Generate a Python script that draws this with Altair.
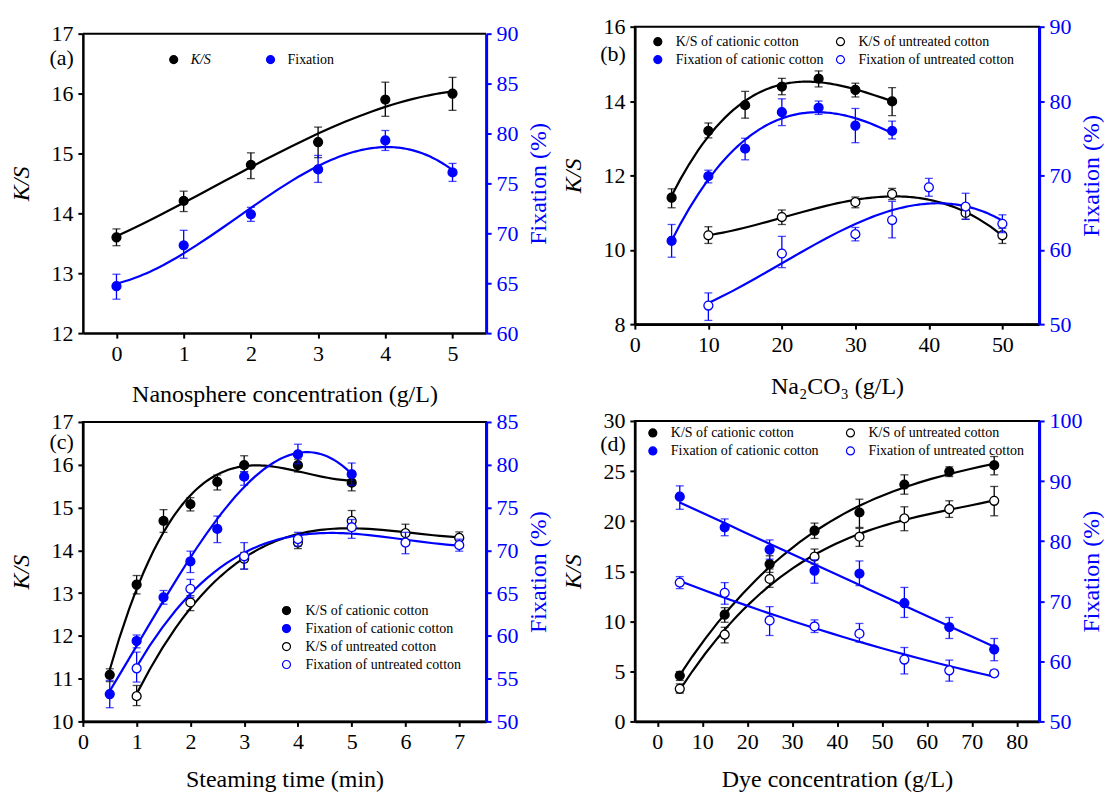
import altair as alt
import pandas as pd

FONT = "Liberation Serif"
BLUE = "#0000FF"

# ---------------- Panel (a) ----------------
a_x = [0, 1, 2, 3, 4, 5]
a_ks = [13.60, 14.21, 14.81, 15.19, 15.90, 16.00]
a_ks_lo = [13.46, 14.03, 14.58, 14.93, 15.62, 15.72]
a_ks_hi = [13.74, 14.37, 15.01, 15.44, 16.19, 16.27]
a_fx = [64.7, 68.8, 71.9, 76.4, 79.3, 76.1]
a_fx_lo = [63.4, 67.5, 71.2, 75.1, 78.3, 75.2]
a_fx_hi = [65.9, 70.3, 72.6, 77.8, 80.3, 77.0]

# ---------------- Panel (b) ----------------
b_cat_x = [5, 10, 15, 20, 25, 30, 35]
b_ks_cat = [11.40, 13.20, 13.89, 14.39, 14.60, 14.30, 13.99]
b_ks_cat_lo = [11.13, 13.01, 13.54, 14.17, 14.38, 14.11, 13.61]
b_ks_cat_hi = [11.64, 13.41, 14.26, 14.61, 14.81, 14.48, 14.36]
b_fx_cat = [61.2, 69.9, 73.6, 78.5, 79.1, 76.7, 76.0]
b_fx_cat_lo = [59.0, 69.0, 72.1, 76.7, 78.2, 74.4, 74.9]
b_fx_cat_hi = [63.4, 70.7, 75.0, 80.3, 80.0, 79.0, 77.3]
b_ks_unt_x = [10, 20, 30, 35, 45, 50]
b_ks_unt = [10.39, 10.88, 11.28, 11.50, 10.99, 10.39]
b_ks_unt_lo = [10.17, 10.68, 11.13, 11.35, 10.82, 10.17]
b_ks_unt_hi = [10.62, 11.07, 11.42, 11.65, 11.13, 10.58]
b_fx_unt_x = [10, 20, 30, 35, 40, 45, 50]
b_fx_unt = [52.5, 59.5, 62.1, 64.0, 68.4, 65.8, 63.5]
b_fx_unt_lo = [50.5, 57.6, 61.2, 61.6, 67.2, 64.1, 62.3]
b_fx_unt_hi = [54.2, 61.8, 63.0, 66.5, 69.6, 67.6, 64.7]

# ---------------- Panel (c) ----------------
c_cat_x = [0.5, 1, 1.5, 2, 2.5, 3, 4, 5]
c_ks_cat = [11.09, 13.20, 14.69, 15.08, 15.60, 15.99, 15.99, 15.58]
c_ks_cat_lo = [10.93, 12.98, 14.42, 14.92, 15.41, 15.83, 15.83, 15.39]
c_ks_cat_hi = [11.23, 13.41, 14.95, 15.23, 15.76, 16.21, 16.13, 15.72]
c_fx_cat = [53.2, 59.4, 64.5, 68.7, 72.5, 78.6, 81.2, 78.9]
c_fx_cat_lo = [51.6, 58.6, 63.7, 67.4, 70.9, 77.6, 80.1, 77.6]
c_fx_cat_hi = [54.8, 60.1, 65.3, 69.9, 74.0, 79.2, 82.4, 80.2]
c_unt_x = [1, 2, 3, 4, 5, 6, 7]
c_ks_unt = [10.59, 12.78, 13.80, 14.18, 14.69, 14.40, 14.29]
c_ks_unt_lo = [10.37, 12.59, 13.56, 14.04, 14.46, 14.18, 14.15]
c_ks_unt_hi = [10.84, 12.94, 13.95, 14.34, 14.93, 14.61, 14.43]
c_fx_unt = [56.2, 65.5, 69.3, 71.3, 72.7, 70.9, 70.6]
c_fx_unt_lo = [54.6, 64.5, 67.8, 70.5, 71.4, 69.6, 69.9]
c_fx_unt_hi = [58.1, 66.6, 70.9, 72.1, 73.6, 72.1, 71.3]

# ---------------- Panel (d) ----------------
d_x = [5, 15, 25, 35, 45, 55, 65, 75]
d_ks_cat = [4.58, 10.66, 15.71, 19.04, 20.86, 23.65, 24.95, 25.58]
d_ks_cat_lo = [4.09, 9.90, 14.88, 18.27, 19.37, 22.69, 24.45, 24.62]
d_ks_cat_hi = [4.98, 11.36, 16.54, 19.80, 22.19, 24.62, 25.42, 26.45]
d_ks_unt = [3.26, 8.67, 14.22, 16.45, 18.44, 20.27, 21.20, 22.03]
d_ks_unt_lo = [2.82, 7.84, 13.39, 15.71, 17.48, 19.04, 20.37, 20.53]
d_ks_unt_hi = [3.75, 9.40, 15.22, 17.21, 19.27, 21.43, 22.03, 23.46]
d_fx_cat = [87.4, 82.3, 78.6, 75.1, 74.6, 69.7, 65.7, 62.0]
d_fx_cat_lo = [85.3, 80.9, 77.0, 73.0, 72.6, 67.3, 63.8, 60.1]
d_fx_cat_hi = [89.2, 83.7, 80.2, 76.9, 76.7, 72.3, 67.3, 63.8]
d_fx_unt = [73.1, 71.4, 66.8, 65.8, 64.6, 60.3, 58.5, 58.0]
d_fx_unt_lo = [72.1, 69.5, 64.3, 64.8, 63.2, 57.9, 56.7, 57.5]
d_fx_unt_hi = [74.1, 73.1, 69.1, 66.9, 66.3, 62.3, 60.2, 58.5]

KS_CAT = "K/S of cationic cotton"
KS_UNT = "K/S of untreated cotton"
FX_CAT = "Fixation of cationic cotton"
FX_UNT = "Fixation of untreated cotton"


def frame(name, xs, vs, los, his):
    return pd.DataFrame({"s": [name] * len(xs), "x": xs, "v": vs, "lo": los, "hi": his})


def group(df, xenc, ysc, axis, color, order, fill_sc, stroke_sc, legend):
    base = alt.Chart(df)
    rule = base.mark_rule(color=color, strokeWidth=1.3).encode(
        x=xenc, y=alt.Y("lo:Q", scale=ysc, axis=axis), y2="hi:Q")
    cap_lo = base.mark_tick(orient="horizontal", color=color, size=8, thickness=1.3).encode(
        x=xenc, y=alt.Y("lo:Q", scale=ysc, axis=axis))
    cap_hi = base.mark_tick(orient="horizontal", color=color, size=8, thickness=1.3).encode(
        x=xenc, y=alt.Y("hi:Q", scale=ysc, axis=axis))
    line = base.transform_regression("x", "v", groupby=["s"], method="poly", order=order).mark_line(
        color=color, strokeWidth=2.2).encode(
        x=xenc, y=alt.Y("v:Q", scale=ysc, axis=axis), detail="s:N")
    pts = base.mark_point(shape="circle", filled=True, size=80, opacity=1, strokeWidth=1.3).encode(
        x=xenc, y=alt.Y("v:Q", scale=ysc, axis=axis),
        fill=alt.Fill("s:N", scale=fill_sc, legend=legend),
        stroke=alt.Stroke("s:N", scale=stroke_sc, legend=legend))
    return alt.layer(rule, cap_lo, cap_hi, line, pts)


def panel(ks_df, fx_df, xdom, xvals, xtitle, ksdom, ksvals, fxdom, fxvals,
          order_ks, order_fx, domain, fills, strokes, legend, label, label_y, w, h,
          top=0, xtp=19):
    xenc = alt.X("x:Q", scale=alt.Scale(domain=xdom, nice=False, zero=False),
                 axis=alt.Axis(values=xvals, title=xtitle, titlePadding=xtp,
                               titleFont=FONT, labelFont=FONT, titleFontWeight="normal"))
    ks_axis = alt.Axis(orient="left", values=ksvals, title="K/S", titleFontStyle="italic",
                       titlePadding=17, format="d", titleFont=FONT, labelFont=FONT,
                       titleFontWeight="normal")
    fx_axis = alt.Axis(orient="right", values=fxvals, title="Fixation (%)", titleAngle=270,
                       titleBaseline="top", titleX=40, format="d",
                       titleFont=FONT, labelFont=FONT, titleFontWeight="normal",
                       domainColor=BLUE, tickColor=BLUE, labelColor=BLUE, titleColor=BLUE,
                       domainWidth=3)
    fill_sc = alt.Scale(domain=domain, range=fills)
    stroke_sc = alt.Scale(domain=domain, range=strokes)
    ks_sc = alt.Scale(domain=ksdom, nice=False, zero=False, range=[h + top, top])
    fx_sc = alt.Scale(domain=fxdom, nice=False, zero=False, range=[h + top, top])
    ks = group(ks_df, xenc, ks_sc, ks_axis, "black", order_ks, fill_sc, stroke_sc, legend)
    fx = group(fx_df, xenc, fx_sc, fx_axis, BLUE, order_fx, fill_sc, stroke_sc, legend)
    lab = alt.Chart(pd.DataFrame({"t": [label]})).mark_text(
        font=FONT, fontSize=22, align="right", baseline="middle", color="black").encode(
        text="t:N", x=alt.value(-9), y=alt.value(label_y))
    layers = [ks, fx, lab]
    if top:
        border = alt.Chart(pd.DataFrame({"t": [0]})).mark_rule(
            color="black", strokeWidth=2).encode(
            x=alt.value(0), x2=alt.value(w), y=alt.value(top))
        layers.append(border)
    ch = alt.layer(*layers).resolve_scale(y="independent").properties(width=w, height=h + top)
    if top:
        ch = ch.properties(view=alt.ViewBackground(stroke="transparent"))
    return ch


def legend(x, y, columns, col_pad, offset, style="normal"):
    return alt.Legend(orient="none", legendX=x, legendY=y, title=None, columns=columns,
                      labelFont=FONT, labelFontSize=14, labelColor="black", symbolSize=64,
                      labelFontStyle=style,
                      symbolStrokeWidth=1.2, symbolType="circle", labelOffset=offset,
                      rowPadding=4, columnPadding=col_pad, padding=0, labelLimit=400)


# ----- build data frames -----
ka = frame("K/S", a_x, a_ks, a_ks_lo, a_ks_hi)
fa = frame("Fixation", a_x, a_fx, a_fx_lo, a_fx_hi)

kb = pd.concat([frame(KS_CAT, b_cat_x, b_ks_cat, b_ks_cat_lo, b_ks_cat_hi),
                frame(KS_UNT, b_ks_unt_x, b_ks_unt, b_ks_unt_lo, b_ks_unt_hi)])
fb = pd.concat([frame(FX_CAT, b_cat_x, b_fx_cat, b_fx_cat_lo, b_fx_cat_hi),
                frame(FX_UNT, b_fx_unt_x, b_fx_unt, b_fx_unt_lo, b_fx_unt_hi)])

kc = pd.concat([frame(KS_CAT, c_cat_x, c_ks_cat, c_ks_cat_lo, c_ks_cat_hi),
                frame(KS_UNT, c_unt_x, c_ks_unt, c_ks_unt_lo, c_ks_unt_hi)])
fc = pd.concat([frame(FX_CAT, c_cat_x, c_fx_cat, c_fx_cat_lo, c_fx_cat_hi),
                frame(FX_UNT, c_unt_x, c_fx_unt, c_fx_unt_lo, c_fx_unt_hi)])

kd = pd.concat([frame(KS_CAT, d_x, d_ks_cat, d_ks_cat_lo, d_ks_cat_hi),
                frame(KS_UNT, d_x, d_ks_unt, d_ks_unt_lo, d_ks_unt_hi)])
fd = pd.concat([frame(FX_CAT, d_x, d_fx_cat, d_fx_cat_lo, d_fx_cat_hi),
                frame(FX_UNT, d_x, d_fx_unt, d_fx_unt_lo, d_fx_unt_hi)])

dom4 = [KS_CAT, FX_CAT, KS_UNT, FX_UNT]
fill4 = ["black", BLUE, "white", "white"]
stroke4 = ["black", BLUE, "black", BLUE]

italic_ks = alt.ExprRef(expr="datum.label == 'K/S' ? 'italic' : 'normal'")

pa = panel(ka, fa, [-0.5, 5.5], [0, 1, 2, 3, 4, 5], "Nanosphere concentration (g/L)",
           [12, 17], [12, 13, 14, 15, 16, 17], [60, 90], [60, 65, 70, 75, 80, 85, 90],
           3, 3, ["K/S", "Fixation"], ["black", BLUE], ["black", BLUE],
           legend(84, 26, 2, 52, 10, italic_ks), "(a)", 31, 404, 300, top=7)

pb = panel(kb, fb, [0, 55], [0, 10, 20, 30, 40, 50], "Na\u2082CO\u2083 (g/L)",
           [8, 16], [8, 10, 12, 14, 16], [50, 90], [50, 60, 70, 80, 90],
           3, 3, dom4, fill4, stroke4, legend(16, 8, 2, 9, 11), "(b)", 27, 405, 298)

pc = panel(kc, fc, [0, 7.5], [0, 1, 2, 3, 4, 5, 6, 7], "Steaming time (min)",
           [10, 17], [10, 11, 12, 13, 14, 15, 16, 17], [50, 85], [50, 55, 60, 65, 70, 75, 80, 85],
           3, 3, dom4, fill4, stroke4, legend(197, 182, 1, 10, 12), "(c)", 20, 404, 300, xtp=15)

pd_ = panel(kd, fd, [-5, 85], [0, 10, 20, 30, 40, 50, 60, 70, 80], "Dye concentration (g/L)",
            [0, 30], [0, 5, 10, 15, 20, 25, 30], [50, 100], [50, 60, 70, 80, 90, 100],
            3, 2, dom4, fill4, stroke4, legend(11, 5, 2, 24, 11), "(d)", 23, 405, 301, xtp=15)

res = dict(x="independent", y="independent", fill="independent", stroke="independent")
col1 = alt.vconcat(pa, pc, spacing=2).resolve_scale(**res).resolve_legend(
    fill="independent", stroke="independent")
col2 = alt.vconcat(pb, pd_, spacing=10).resolve_scale(**res).resolve_legend(
    fill="independent", stroke="independent")
chart = alt.concat(col1, col2, columns=2, spacing=10, align="none").resolve_scale(**res).resolve_legend(
    fill="independent", stroke="independent")

chart = chart.properties(
    padding={"left": 1, "top": 6, "right": 0, "bottom": 0},
    background="white",
).configure_view(
    stroke="black", strokeWidth=2
).configure_axis(
    labelFont=FONT, titleFont=FONT, labelFontSize=22, titleFontSize=24,
    titleFontWeight="normal", labelColor="black", titleColor="black",
    tickSize=5, tickWidth=2, domainWidth=2.5, domainColor="black", tickColor="black",
    labelPadding=5, grid=False, labelFlush=False, labelOverlap=False,
).configure_title(font=FONT)

chart.save("out.html", embed_options={"renderer": "svg", "actions": False})
